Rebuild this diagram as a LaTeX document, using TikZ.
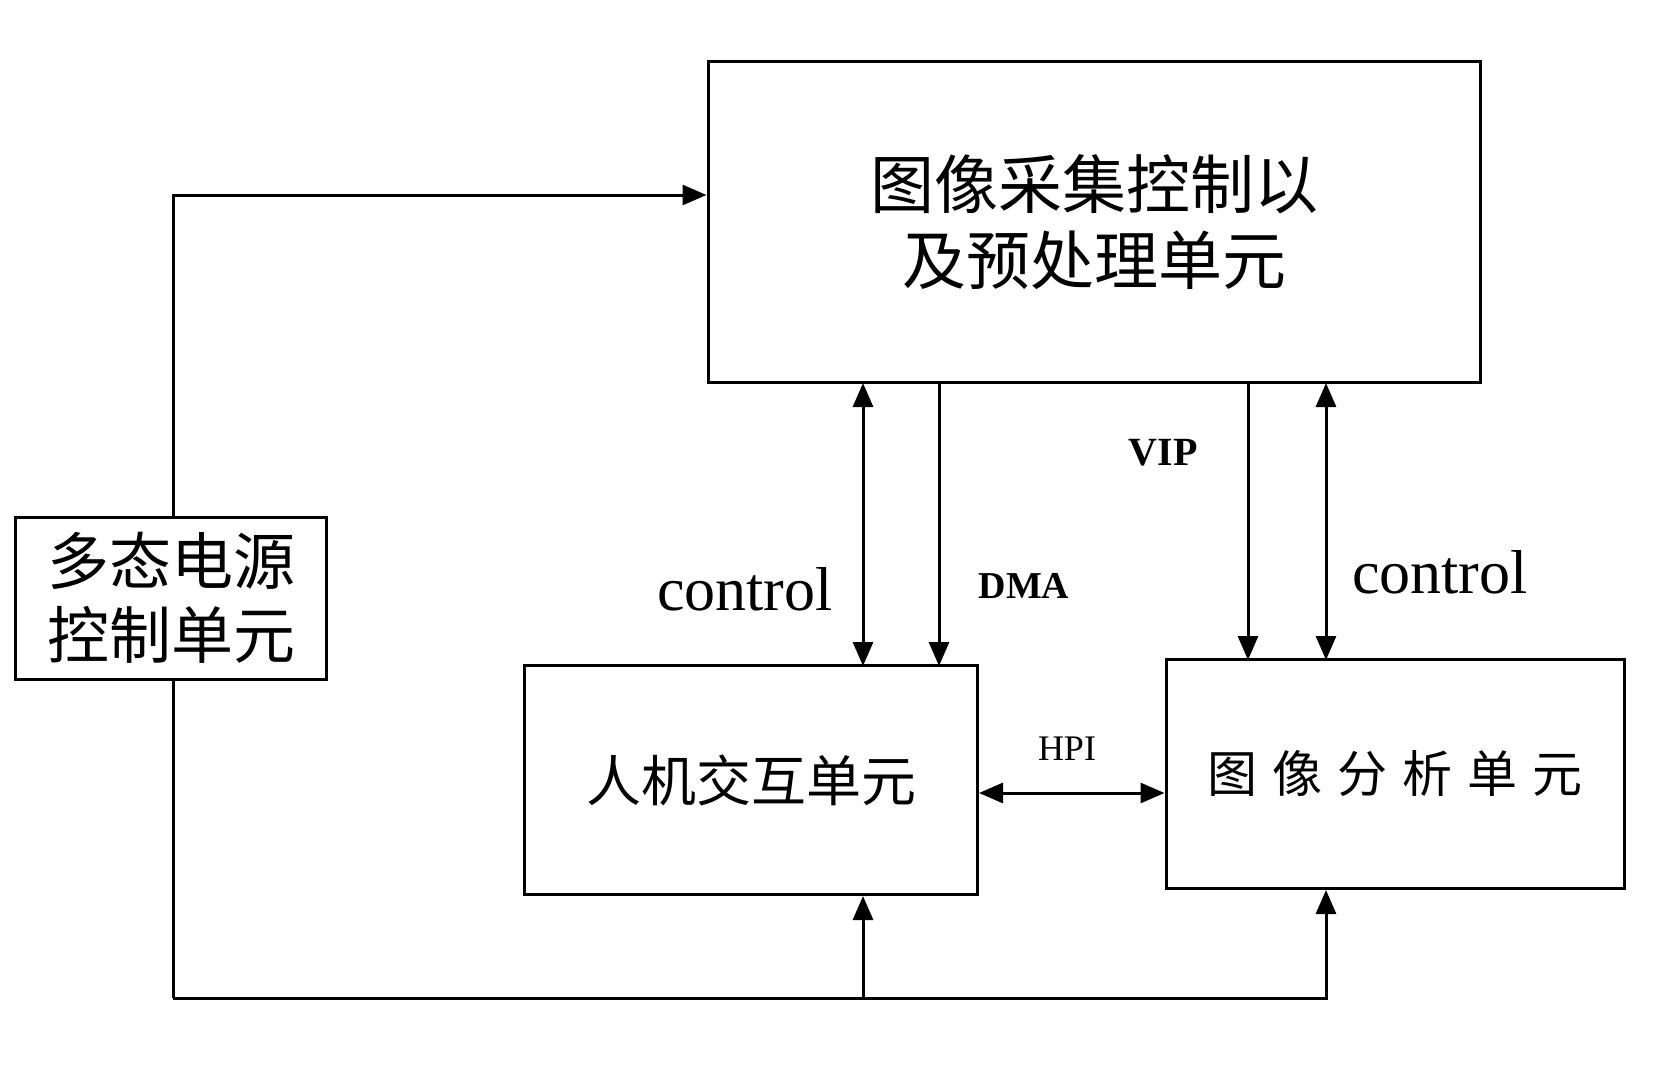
\documentclass[tikz,border=0pt]{standalone}
\usepackage{fontspec}
\setmainfont{Liberation Serif}
\newfontfamily\cjk{Noto Sans CJK SC}
\usetikzlibrary{arrows.meta}
\begin{document}
\begin{tikzpicture}[x=1pt,y=-1pt,
    line width=3pt,
    >={Triangle[length=24pt,width=20pt]},
    unit/.style = {
      draw,
      fill = white,
      rectangle,
      inner sep = 0pt,
      align = center
    }
  ]
  \useasboundingbox (0,0) rectangle (1666,1070);

  \node[unit,minimum width=772pt,minimum height=321pt,font=\cjk\fontsize{64}{76}\selectfont] (acq) at (1094,222) {图像采集控制以\\及预处理单元};
  \node[unit,minimum width=453pt,minimum height=229pt,font=\cjk\fontsize{55}{64}\selectfont] (hmi) at (751,780) {人机交互单元};
  \node[unit,minimum width=458pt,minimum height=229pt,font=\cjk\fontsize{50}{58}\selectfont] (ana) at (1395,774) {图\hspace{15pt}像\hspace{15pt}分\hspace{15pt}析\hspace{15pt}单\hspace{15pt}元};

  \coordinate (bl) at (173,998);
  \coordinate (bm) at (863,998);
  \coordinate (br) at (1326,998);
  \coordinate (tl) at (173,195);

  % power lines
  \draw[->] (bm) -- (bm |- hmi.south);
  \draw[->] (bl) -- (br) -- (br |- ana.south);
  \draw[->] (bl) -- (tl) -- (tl -| acq.west);
  \node[unit,minimum width=311pt,minimum height=162pt,font=\cjk\fontsize{62}{74}\selectfont] (pwr) at (171,598) {多态电源\\控制单元};

  % buses
  \draw[<->] (863,383) -- (863,666);
  \draw[->] (939,383) -- (939,666);
  \draw[->] (1248,383) -- (1248,660);
  \draw[<->] (1326,383) -- (1326,660);
  \draw[<->] (hmi.east |- 0,793) -- (ana.west |- 0,793);

  \node[font=\fontsize{62}{66}\selectfont] (c1) at (745,589) {control};
  \node[font=\bfseries\fontsize{38}{40}\selectfont] (dma) at (1024,586) {DMA};
  \node[font=\bfseries\fontsize{40}{42}\selectfont] (vip) at (1163,453) {VIP};
  \node[font=\fontsize{62}{66}\selectfont] (c2) at (1440,572) {control};
  \node[font=\fontsize{36}{40}\selectfont] (hpi) at (1067,749) {HPI};
\end{tikzpicture}
\end{document}
